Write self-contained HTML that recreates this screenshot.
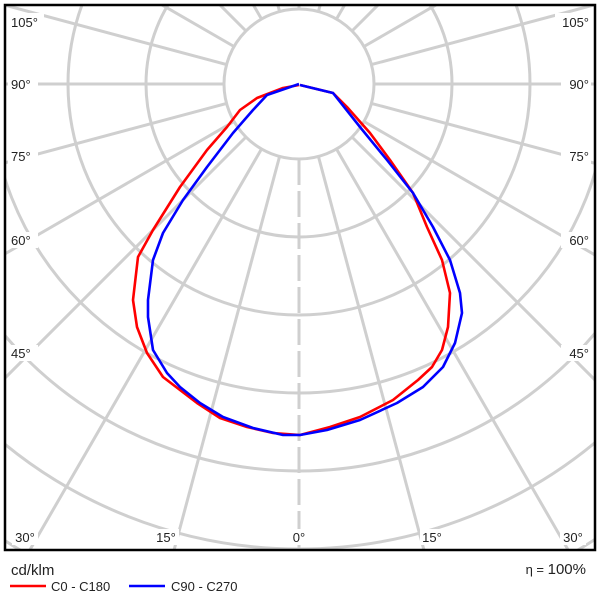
<!DOCTYPE html>
<html><head><style>body{margin:0;background:#fff;overflow:hidden}svg{display:block}</style></head><body>
<svg width="600" height="600" viewBox="0 0 600 600" font-family="Liberation Sans, DejaVu Sans, sans-serif">
<defs><clipPath id="c"><rect x="5" y="5" width="590" height="545"/></clipPath></defs>
<rect width="600" height="600" fill="#fff"/>
<g clip-path="url(#c)" stroke="#cfcfcf" stroke-width="3" fill="none">
<circle cx="299" cy="84" r="75"/><circle cx="299" cy="84" r="153"/><circle cx="299" cy="84" r="231"/>
<circle cx="299" cy="84" r="309"/><circle cx="299" cy="84" r="387"/><circle cx="299" cy="84" r="465"/><circle cx="299" cy="84" r="543"/>
<g id="rl">
<line x1="299" y1="159" x2="299" y2="900" stroke-dasharray="26,6"/>
<line x1="318.4" y1="156.4" x2="532" y2="953"/>
<line x1="336.5" y1="149" x2="749" y2="863"/>
<line x1="352" y1="137" x2="936" y2="721"/>
<line x1="364" y1="121.5" x2="1078" y2="534"/>
<line x1="371.4" y1="103.4" x2="1168" y2="317"/>
<line x1="374" y1="84" x2="1200" y2="84"/>
<line x1="371.4" y1="64.6" x2="1168" y2="-149"/>
<line x1="364" y1="46.5" x2="1078" y2="-366"/>
<line x1="352" y1="31" x2="936" y2="-553"/>
<line x1="336.5" y1="19" x2="749" y2="-695"/>
<line x1="318.4" y1="11.6" x2="532" y2="-785"/>
<line x1="299" y1="9" x2="299" y2="-800"/>
</g>
<use href="#rl" transform="translate(598 0) scale(-1 1)"/>
</g>
<g fill="none" stroke-width="2.6" stroke-linejoin="round">
<polyline stroke="#ff0000" points="299,85 283,88 257,98 240,110 227,127 207,150 180,187 153,230 138,257 133,300 137,327 147,353 163,377 180,390 197,403 220,418 247,427 273,433 300,435 330,427 360,417 393,400 418,380 432,367 442,350 448,327 450,293 442,260 427,227 413,193 390,160 370,133 347,107 333,93 300,85"/>
<polyline stroke="#0000ff" points="299,84 267,95 253,110 233,133 207,167 183,200 163,233 153,260 148,300 148,317 153,350 167,373 180,387 200,403 223,417 253,428 283,435 300,435 327,430 360,420 397,403 423,387 443,367 455,343 462,313 460,293 450,260 433,227 413,193 387,160 360,127 333,93 300,85"/>
</g>
<g font-size="13" fill="#222">
<g fill="#fff"><rect x="8" y="13" width="36" height="16"/><rect x="8" y="76" width="30" height="16"/><rect x="8" y="148" width="30" height="16"/><rect x="8" y="232" width="30" height="16"/><rect x="8" y="345" width="30" height="16"/>
<rect x="555" y="13" width="36" height="16"/><rect x="561" y="76" width="30" height="16"/><rect x="561" y="148" width="30" height="16"/><rect x="561" y="232" width="30" height="16"/><rect x="561" y="345" width="30" height="16"/>
<rect x="12" y="529" width="26" height="16"/><rect x="153" y="529" width="26" height="16"/><rect x="291" y="529" width="16" height="16"/><rect x="420" y="529" width="26" height="16"/><rect x="560" y="529" width="26" height="16"/></g>
<text x="11" y="27">105°</text><text x="11" y="89">90°</text><text x="11" y="161">75°</text><text x="11" y="245">60°</text><text x="11" y="358">45°</text>
<text x="589" y="27" text-anchor="end">105°</text><text x="589" y="89" text-anchor="end">90°</text><text x="589" y="161" text-anchor="end">75°</text><text x="589" y="245" text-anchor="end">60°</text><text x="589" y="358" text-anchor="end">45°</text>
<text x="25" y="542" text-anchor="middle">30°</text><text x="166" y="542" text-anchor="middle">15°</text><text x="299" y="542" text-anchor="middle">0°</text><text x="432" y="542" text-anchor="middle">15°</text><text x="573" y="542" text-anchor="middle">30°</text>
</g>
<rect x="5" y="5" width="590" height="545" fill="none" stroke="#000" stroke-width="2.5"/>
<text x="11" y="575" font-size="15" fill="#222">cd/klm</text>
<line x1="10" y1="586" x2="46" y2="586" stroke="#f00" stroke-width="2.5"/>
<text x="51" y="591" font-size="13" fill="#222">C0 - C180</text>
<line x1="129" y1="586" x2="165" y2="586" stroke="#00f" stroke-width="2.5"/>
<text x="171" y="591" font-size="13" fill="#222">C90 - C270</text>
<text x="586" y="574" font-size="15" fill="#222" text-anchor="end"><tspan font-size="13">η = </tspan>100%</text>
</svg>
</body></html>
